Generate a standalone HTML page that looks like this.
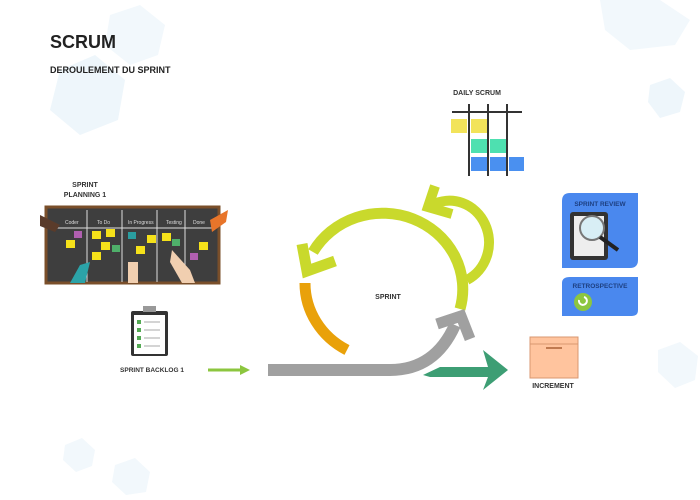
<!DOCTYPE html>
<html><head><meta charset="utf-8"><style>
body{margin:0;width:700px;height:495px;background:#fff;overflow:hidden;font-family:"Liberation Sans",sans-serif}
</style></head><body>
<svg width="700" height="495" xmlns="http://www.w3.org/2000/svg" font-family="Liberation Sans, sans-serif">
<g fill="#eef6fb">
<polygon points="60,70 95,55 125,80 118,120 80,135 50,110"/>
<polygon points="110,15 140,5 165,25 158,55 130,65 105,45" fill="#f2f8fc"/>
<polygon points="600,0 660,0 690,20 675,45 630,50 605,30" fill="#f2f8fc"/>
<polygon points="650,85 670,78 685,92 680,112 660,118 648,102"/>
<polygon points="658,350 680,342 698,356 695,380 675,388 658,372" fill="#f2f8fc"/>
<polygon points="65,445 82,438 95,450 92,466 76,472 63,460" fill="#f2f8fc"/>
<polygon points="115,465 135,458 150,472 146,492 126,495 112,482" fill="#f2f8fc"/>
</g>
<text x="50" y="48" font-size="18" font-weight="bold" fill="#222">SCRUM</text>
<text x="50" y="73" font-size="9" font-weight="bold" fill="#222">DEROULEMENT DU SPRINT</text>

<text x="85" y="187" font-size="7" font-weight="bold" fill="#333" text-anchor="middle">SPRINT</text>
<text x="85" y="197" font-size="7" font-weight="bold" fill="#333" text-anchor="middle">PLANNING 1</text>
<rect x="46" y="207" width="173" height="76" fill="#3e3e3e" stroke="#7a4f2a" stroke-width="3"/>
<g stroke="#ddd" stroke-width="1"><line x1="87" y1="210" x2="87" y2="282"/><line x1="122" y1="210" x2="122" y2="282"/><line x1="157" y1="210" x2="157" y2="282"/><line x1="185" y1="210" x2="185" y2="282"/><line x1="48" y1="228" x2="217" y2="228"/></g>
<g font-size="5" fill="#ddd"><text x="65" y="224">Coder</text><text x="97" y="224">To Do</text><text x="128" y="224">In Progress</text><text x="166" y="224">Testing</text><text x="193" y="224">Done</text></g>
<g fill="#f5e11a"><rect x="92" y="231" width="9" height="8"/><rect x="106" y="229" width="9" height="8"/><rect x="101" y="242" width="9" height="8"/><rect x="66" y="240" width="9" height="8"/><rect x="92" y="252" width="9" height="8"/><rect x="147" y="235" width="9" height="8"/><rect x="136" y="246" width="9" height="8"/><rect x="162" y="233" width="9" height="8"/><rect x="199" y="242" width="9" height="8"/></g>
<rect x="74" y="231" width="8" height="7" fill="#b05fb0"/><rect x="128" y="232" width="8" height="7" fill="#2a9ea0"/><rect x="112" y="245" width="8" height="7" fill="#4fb06a"/><rect x="172" y="239" width="8" height="7" fill="#4fb06a"/><rect x="190" y="253" width="8" height="7" fill="#b05fb0"/>
<path d="M70,283 L80,265 L90,262 L85,283Z" fill="#2ba3a8"/><path d="M128,283 L128,262 L138,262 L138,283Z" fill="#f1cfb0"/><path d="M172,250 L190,270 L195,283 L182,283 L170,262Z" fill="#f1cfb0"/><path d="M210,220 L228,210 L226,222 L212,232Z" fill="#e8752a"/><path d="M40,215 L60,225 L55,232 L40,226Z" fill="#5a3b2a"/>

<text x="152" y="372" font-size="6.5" font-weight="bold" fill="#333" text-anchor="middle">SPRINT BACKLOG 1</text>
<rect x="131" y="311" width="37" height="45" rx="2" fill="#333"/><rect x="134" y="315" width="31" height="39" fill="#fff"/><rect x="143" y="306" width="13" height="6" fill="#999"/>
<g fill="#5a5"><rect x="137" y="320" width="4" height="4"/><rect x="137" y="328" width="4" height="4"/><rect x="137" y="336" width="4" height="4"/><rect x="137" y="344" width="4" height="4"/></g>
<g stroke="#aaa"><line x1="144" y1="322" x2="160" y2="322"/><line x1="144" y1="330" x2="160" y2="330"/><line x1="144" y1="338" x2="160" y2="338"/><line x1="144" y1="346" x2="160" y2="346"/></g>

<line x1="208" y1="370" x2="242" y2="370" stroke="#8cc63f" stroke-width="3"/><polygon points="240,365 250,370 240,375" fill="#8cc63f"/>

<path d="M347,350 A80,76 0 0 1 305,283" fill="none" stroke="#e9a10a" stroke-width="11"/>
<path d="M460,309 A80,76 0 0 0 313,252" fill="none" stroke="#c9d92c" stroke-width="11"/>
<polyline points="302,244 307,271 335,261" fill="none" stroke="#c9d92c" stroke-width="11" stroke-linejoin="miter"/>
<path d="M467,280 A34,36 0 0 0 432,205" fill="none" stroke="#c9d92c" stroke-width="10"/>
<polyline points="435,186 428,207 452,214" fill="none" stroke="#c9d92c" stroke-width="10" stroke-linejoin="miter"/>
<path d="M268,370 L390,370 Q435,370 455,325" fill="none" stroke="#a0a0a0" stroke-width="12"/>
<polyline points="437,324 461,316 470,339" fill="none" stroke="#a0a0a0" stroke-width="11" stroke-linejoin="miter"/>
<path d="M423,375 L440,367 L488,367 L483,350 L508,370 L483,390 L488,377 L430,377Z" fill="#3d9e74"/>
<text x="388" y="299" font-size="7" font-weight="bold" fill="#333" text-anchor="middle">SPRINT</text>

<text x="477" y="95" font-size="7" font-weight="bold" fill="#333" text-anchor="middle">DAILY SCRUM</text>
<g stroke="#333" stroke-width="2"><line x1="452" y1="112" x2="522" y2="112"/><line x1="469" y1="104" x2="469" y2="176"/><line x1="488" y1="104" x2="488" y2="176"/><line x1="507" y1="104" x2="507" y2="176"/></g>
<g fill="#f2e35a"><rect x="451" y="119" width="16" height="14"/><rect x="471" y="119" width="16" height="14"/></g>
<g fill="#4ee0b0"><rect x="471" y="139" width="16" height="14"/><rect x="490" y="139" width="16" height="14"/></g>
<g fill="#4a90f0"><rect x="471" y="157" width="16" height="14"/><rect x="490" y="157" width="16" height="14"/><rect x="509" y="157" width="15" height="14"/></g>

<path d="M570,193 L638,193 L638,260 Q638,268 630,268 L562,268 L562,201 Q562,193 570,193Z" fill="#4a88ee"/>
<text x="600" y="206" font-size="6.5" font-weight="bold" fill="#1d3f80" text-anchor="middle">SPRINT REVIEW</text>
<rect x="570" y="212" width="38" height="48" rx="3" fill="#333"/><rect x="574" y="216" width="30" height="40" fill="#eee"/>
<circle cx="592" cy="228" r="12" fill="#d8eef5" stroke="#777" stroke-width="2"/><line x1="600" y1="237" x2="618" y2="250" stroke="#222" stroke-width="4"/>
<path d="M570,277 L638,277 L638,310 Q638,316 632,316 L562,316 L562,283 Q562,277 570,277Z" fill="#4a88ee"/>
<text x="600" y="288" font-size="6.5" font-weight="bold" fill="#1d3f80" text-anchor="middle">RETROSPECTIVE</text>
<circle cx="583" cy="302" r="9" fill="#8cc63f"/><path d="M579,300 A4,4 0 1 0 584,297" fill="none" stroke="#fff" stroke-width="2"/>

<rect x="530" y="343" width="48" height="35" fill="#ffc49e" stroke="#d89770" stroke-width="1"/><rect x="530" y="337" width="48" height="7" fill="#ffc49e" stroke="#d89770" stroke-width="1"/><line x1="546" y1="348" x2="562" y2="348" stroke="#c07a50" stroke-width="2"/>
<text x="553" y="388" font-size="7" font-weight="bold" fill="#333" text-anchor="middle">INCREMENT</text>
</svg>
</body></html>
